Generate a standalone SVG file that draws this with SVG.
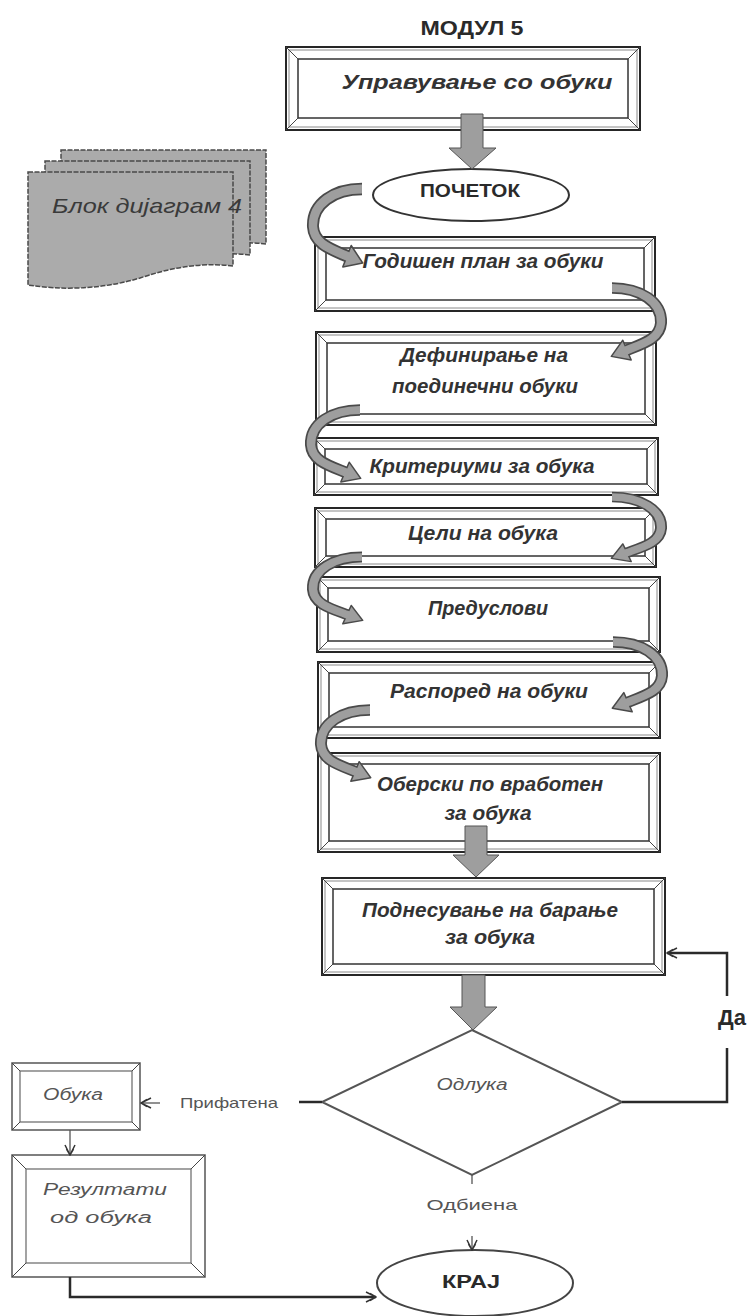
<svg xmlns="http://www.w3.org/2000/svg" xmlns:xlink="http://www.w3.org/1999/xlink" width="747" height="1316" viewBox="0 0 747 1316">
  <style>
    .fo { fill: #fff; stroke: #262626; stroke-width: 2; }
    .fm { fill: none; stroke: #8a8a8a; stroke-width: 1; }
    .fi { fill: none; stroke: #333; stroke-width: 1.5; }
    .fb { fill: none; stroke: #444; stroke-width: 1; }
    .so { fill: #fff; stroke: #555; stroke-width: 1.5; }
    .si { fill: none; stroke: #666; stroke-width: 1.2; }
    .bt { font-family: "Liberation Sans", Arial, sans-serif; font-style: italic; font-weight: bold; font-size: 20px; fill: #333; text-anchor: middle; }
    .it { font-family: "Liberation Sans", Arial, sans-serif; font-style: italic; font-size: 16px; fill: #555; text-anchor: middle; }
    .lb { font-family: "Liberation Sans", Arial, sans-serif; font-size: 15px; fill: #555; text-anchor: middle; }
    .hd { font-family: "Liberation Sans", Arial, sans-serif; font-weight: bold; fill: #2a2a2a; text-anchor: middle; }
    .blk { fill: #9e9e9e; stroke: #555; stroke-width: 1; }
    .ln { fill: none; stroke: #2a2a2a; stroke-width: 2.5; }
    .lg { fill: none; stroke: #555; stroke-width: 1.3; }
    .doc { fill: #ababab; stroke: #4a4a4a; stroke-width: 1.5; stroke-dasharray: 5 1.5; }
  </style>
  <defs>
    <!-- open feathered arrowhead for line connectors -->
    <marker id="vee" viewBox="0 0 12 12" refX="11" refY="6" markerWidth="12" markerHeight="12" markerUnits="userSpaceOnUse" orient="auto">
      <path d="M1,1 L11,6 L1,11 M5,2.5 L11,6 L5,9.5" fill="none" stroke="#333" stroke-width="1.5"/>
    </marker>
    <!-- curled gray block arrow: tail at origin, bends left, head points right -->
    <g id="curl">
      <path d="M0,0 C-28,0 -50,14 -49,36 C-48,52 -32,57 -15,64" fill="none" stroke="#4a4a4a" stroke-width="12"/>
      <polygon points="-19.2,74.2 -10.8,53.8 0.7,70.5" fill="#9e9e9e" stroke="#4a4a4a" stroke-width="1.5" stroke-linejoin="round"/>
      <path d="M0,0 C-28,0 -50,14 -49,36 C-48,52 -32,57 -15,64 L-12.2,65.1" fill="none" stroke="#9e9e9e" stroke-width="8.5"/>
    </g>
    <!-- stacked document sheet -->
    <path id="sheet" d="M0,0 H205 V94 C172,90 142,96 112,106 C72,118 32,118 0,113 Z"/>
  </defs>

  <!-- heading -->
  <text class="hd" x="472" y="35" font-size="20" textLength="103" lengthAdjust="spacingAndGlyphs">МОДУЛ 5</text>

  <g id="n-module">
    <rect class="fo" x="286" y="47" width="354" height="83"/>
    <rect class="fm" x="289" y="50" width="348" height="77"/>
    <rect class="fi" x="298" y="59" width="330" height="59"/>
    <path class="fb" d="M286,47 l12,12 M640,47 l-12,12 M286,130 l12,-12 M640,130 l-12,-12"/>
    <text class="bt" x="477" y="89" font-size="23" textLength="271" lengthAdjust="spacingAndGlyphs">Управување со обуки</text>
  </g>

  <g id="n-start">
    <ellipse cx="471" cy="195" rx="98" ry="26" fill="#fff" stroke="#333" stroke-width="2"/>
    <text class="hd" x="470" y="197" font-size="19" textLength="100" lengthAdjust="spacingAndGlyphs">ПОЧЕТОК</text>
  </g>

  <g id="n-block4">
    <use xlink:href="#sheet" class="doc" transform="translate(61,150)"/>
    <use xlink:href="#sheet" class="doc" transform="translate(45,161)"/>
    <use xlink:href="#sheet" class="doc" transform="translate(28,172)"/>
    <text x="147" y="213" font-family="Liberation Sans, Arial, sans-serif" font-style="italic" font-size="21" fill="#3a3a3a" text-anchor="middle" textLength="190" lengthAdjust="spacingAndGlyphs">Блок дијаграм 4</text>
  </g>

  <g id="n-plan">
    <rect class="fo" x="315" y="237" width="340" height="74"/>
    <rect class="fm" x="318" y="240" width="334" height="68"/>
    <rect class="fi" x="326" y="248" width="318" height="52"/>
    <path class="fb" d="M315,237 l11,11 M655,237 l-11,11 M315,311 l11,-11 M655,311 l-11,-11"/>
    <text class="bt" x="483" y="268" textLength="241" lengthAdjust="spacingAndGlyphs">Годишен план за обуки</text>
  </g>

  <g id="n-define">
    <rect class="fo" x="316" y="332" width="340" height="93"/>
    <rect class="fm" x="319" y="335" width="334" height="87"/>
    <rect class="fi" x="327" y="343" width="318" height="71"/>
    <path class="fb" d="M316,332 l11,11 M656,332 l-11,11 M316,425 l11,-11 M656,425 l-11,-11"/>
    <text class="bt" x="484" y="362" textLength="168" lengthAdjust="spacingAndGlyphs">Дефинирање на</text>
    <text class="bt" x="485" y="393" textLength="186" lengthAdjust="spacingAndGlyphs">поединечни обуки</text>
  </g>

  <g id="n-criteria">
    <rect class="fo" x="314" y="438" width="344" height="57"/>
    <rect class="fm" x="317" y="441" width="338" height="51"/>
    <rect class="fi" x="325" y="449" width="322" height="35"/>
    <path class="fb" d="M314,438 l11,11 M658,438 l-11,11 M314,495 l11,-11 M658,495 l-11,-11"/>
    <text class="bt" x="482" y="473" textLength="225" lengthAdjust="spacingAndGlyphs">Критериуми за обука</text>
  </g>

  <g id="n-goals">
    <rect class="fo" x="315" y="508" width="341" height="59"/>
    <rect class="fm" x="318" y="511" width="335" height="53"/>
    <rect class="fi" x="326" y="519" width="319" height="37"/>
    <path class="fb" d="M315,508 l11,11 M656,508 l-11,11 M315,567 l11,-11 M656,567 l-11,-11"/>
    <text class="bt" x="483" y="540" textLength="150" lengthAdjust="spacingAndGlyphs">Цели на обука</text>
  </g>

  <g id="n-prereq">
    <rect class="fo" x="317" y="577" width="343" height="75"/>
    <rect class="fm" x="320" y="580" width="337" height="69"/>
    <rect class="fi" x="328" y="588" width="321" height="53"/>
    <path class="fb" d="M317,577 l11,11 M660,577 l-11,11 M317,652 l11,-11 M660,652 l-11,-11"/>
    <text class="bt" x="488" y="615" textLength="120" lengthAdjust="spacingAndGlyphs">Предуслови</text>
  </g>

  <g id="n-schedule">
    <rect class="fo" x="318" y="662" width="342" height="76"/>
    <rect class="fm" x="321" y="665" width="336" height="70"/>
    <rect class="fi" x="329" y="673" width="320" height="54"/>
    <path class="fb" d="M318,662 l11,11 M660,662 l-11,11 M318,738 l11,-11 M660,738 l-11,-11"/>
    <text class="bt" x="489" y="698" textLength="198" lengthAdjust="spacingAndGlyphs">Распоред на обуки</text>
  </g>

  <g id="n-survey">
    <rect class="fo" x="318" y="753" width="342" height="99"/>
    <rect class="fm" x="321" y="756" width="336" height="93"/>
    <rect class="fi" x="329" y="764" width="320" height="77"/>
    <path class="fb" d="M318,753 l11,11 M660,753 l-11,11 M318,852 l11,-11 M660,852 l-11,-11"/>
    <text class="bt" x="490" y="791" textLength="226" lengthAdjust="spacingAndGlyphs">Оберски по вработен</text>
    <text class="bt" x="488" y="820" textLength="87" lengthAdjust="spacingAndGlyphs">за обука</text>
  </g>

  <g id="n-request">
    <rect class="fo" x="322" y="878" width="343" height="97"/>
    <rect class="fm" x="325" y="881" width="337" height="91"/>
    <rect class="fi" x="333" y="889" width="321" height="75"/>
    <path class="fb" d="M322,878 l11,11 M665,878 l-11,11 M322,975 l11,-11 M665,975 l-11,-11"/>
    <text class="bt" x="490" y="917" textLength="256" lengthAdjust="spacingAndGlyphs">Поднесување на барање</text>
    <text class="bt" x="490" y="944" textLength="90" lengthAdjust="spacingAndGlyphs">за обука</text>
  </g>

  <g id="n-decision">
    <polygon points="472,1030 622,1102 472,1175 322,1102" fill="#fff" stroke="#555" stroke-width="2"/>
    <text class="it" x="472" y="1090" font-size="17" textLength="71" lengthAdjust="spacingAndGlyphs">Одлука</text>
  </g>

  <g id="n-training">
    <rect class="so" x="12" y="1063" width="128" height="67"/>
    <rect class="si" x="20" y="1071" width="112" height="51"/>
    <path class="fb" d="M12,1063 l8,8 M140,1063 l-8,8 M12,1130 l8,-8 M140,1130 l-8,-8"/>
    <text class="it" x="73" y="1100" font-size="16" textLength="60" lengthAdjust="spacingAndGlyphs">Обука</text>
  </g>

  <g id="n-results">
    <rect class="so" x="12" y="1155" width="193" height="122"/>
    <rect class="si" x="26" y="1169" width="165" height="94"/>
    <path class="fb" d="M12,1155 l14,14 M205,1155 l-14,14 M12,1277 l14,-14 M205,1277 l-14,-14"/>
    <text class="it" x="105" y="1195" font-size="18" textLength="124" lengthAdjust="spacingAndGlyphs">Резултати</text>
    <text class="it" x="101" y="1223" font-size="18" textLength="102" lengthAdjust="spacingAndGlyphs">од обука</text>
  </g>

  <g id="n-end">
    <ellipse cx="475" cy="1283" rx="98" ry="33" fill="#fff" stroke="#444" stroke-width="2"/>
    <text class="hd" x="471" y="1288" font-size="18" textLength="58" lengthAdjust="spacingAndGlyphs">КРАЈ</text>
  </g>

  <g id="connectors">
    <!-- straight block arrows -->
    <path class="blk" d="M461,114 H483 V148 H496 L472,169 L449,148 H461 Z"/>
    <path class="blk" d="M465,826 H487 V855 H499 L476,877 L453,855 H465 Z"/>
    <path class="blk" d="M462,975 H485 V1007 H497 L473,1030 L450,1007 H462 Z"/>

    <!-- curled step arrows -->
    <use xlink:href="#curl" transform="translate(362,189) scale(1,1.05)"/>
    <use xlink:href="#curl" transform="translate(612,288) scale(-1,0.97)"/>
    <use xlink:href="#curl" transform="translate(360,410) scale(1,0.97)"/>
    <use xlink:href="#curl" transform="translate(612,497) scale(-1,0.87)"/>
    <use xlink:href="#curl" transform="translate(362,557) scale(1,0.9)"/>
    <use xlink:href="#curl" transform="translate(613,642) scale(-1,0.94)"/>
    <use xlink:href="#curl" transform="translate(370,710) scale(1,0.96)"/>

    <!-- yes: back to the request -->
    <path class="ln" d="M622,1102 H727 V1048"/>
    <path class="ln" d="M727,996 V953 H667" marker-end="url(#vee)"/>
    <text class="hd" x="732" y="1025" font-size="22">Да</text>

    <!-- accepted -->
    <path class="ln" d="M322,1102 H299" stroke="#444"/>
    <text class="lb" x="229" y="1108" textLength="98" lengthAdjust="spacingAndGlyphs">Прифатена</text>
    <path class="lg" d="M160,1103 H141" stroke-width="2" marker-end="url(#vee)"/>

    <!-- training to results -->
    <path class="lg" d="M70,1130 V1155" marker-end="url(#vee)"/>

    <!-- results to end -->
    <path class="ln" d="M70,1277 V1297 H376" stroke-width="2" marker-end="url(#vee)"/>

    <!-- rejected -->
    <path class="lg" d="M472,1175 V1184" stroke-width="2"/>
    <text class="lb" x="472" y="1210" textLength="91" lengthAdjust="spacingAndGlyphs">Одбиена</text>
    <path class="lg" d="M472,1236 V1250" stroke-width="2" marker-end="url(#vee)"/>
  </g>
</svg>
